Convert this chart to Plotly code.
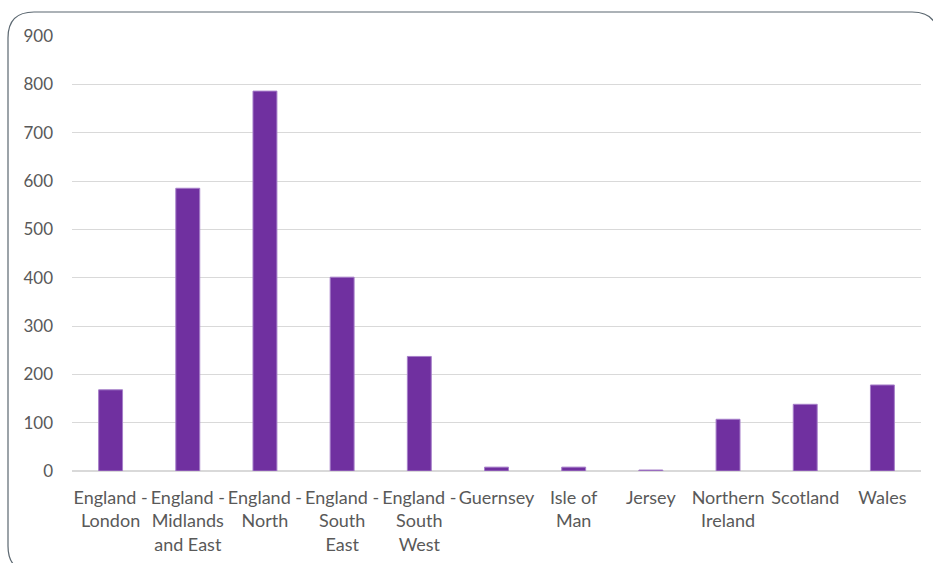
import plotly.graph_objects as go

categories = ["England -<br>London", "England -<br>Midlands<br>and East", "England -<br>North",
              "England -<br>South<br>East", "England -<br>South<br>West", "Guernsey",
              "Isle of<br>Man", "Jersey", "Northern<br>Ireland", "Scotland", "Wales"]
values = [168, 585, 786, 401, 237, 8, 8, 2, 107, 138, 178]
y_ticks = [0, 100, 200, 300, 400, 500, 600, 700, 800, 900]

W, H = 933, 563
ML, MR, MT, MB = 72, 12, 36, 92
PW, PH = W - ML - MR, H - MT - MB

def px(x):
    return (x - ML) / PW

def py(y):
    return (H - MB - y) / PH

fig = go.Figure(go.Bar(
    x=categories, y=values,
    marker=dict(color="#7030A0", line=dict(color="#A67FC9", width=1)),
    width=0.31,
))

# rounded border
x0, x1, y0, y1, r = 8, 938, 12, 572, 26
path = (f"M {px(x0+r)},{py(y0)} L {px(x1-r)},{py(y0)} Q {px(x1)},{py(y0)} {px(x1)},{py(y0+r)} "
        f"L {px(x1)},{py(y1-r)} Q {px(x1)},{py(y1)} {px(x1-r)},{py(y1)} "
        f"L {px(x0+r)},{py(y1)} Q {px(x0)},{py(y1)} {px(x0)},{py(y1-r)} "
        f"L {px(x0)},{py(y0+r)} Q {px(x0)},{py(y0)} {px(x0+r)},{py(y0)} Z")
fig.add_shape(type="path", path=path, xref="paper", yref="paper",
              line=dict(color="#5B6770", width=1.2), layer="below")

fig.update_layout(
    width=W, height=H,
    margin=dict(l=ML, r=MR, t=MT, b=MB, autoexpand=False),
    paper_bgcolor="white", plot_bgcolor="white",
    font=dict(family="Lato, 'Open Sans', sans-serif", size=17, color="#595959"),
    showlegend=False,
    xaxis=dict(showgrid=False, showline=False, ticks="", tickangle=0,
               ticklabelstandoff=14, automargin=False,
               tickfont=dict(size=18, color="#595959")),
    yaxis=dict(range=[0, 900], tickvals=y_ticks, showgrid=True, gridcolor="#D9D9D9",
               gridwidth=1, zeroline=True, zerolinecolor="#D9D9D9", zerolinewidth=1.5,
               ticks="", ticklabelstandoff=18, automargin=False,
               tickfont=dict(size=17, color="#595959")),
)

fig.write_html("out.html")
